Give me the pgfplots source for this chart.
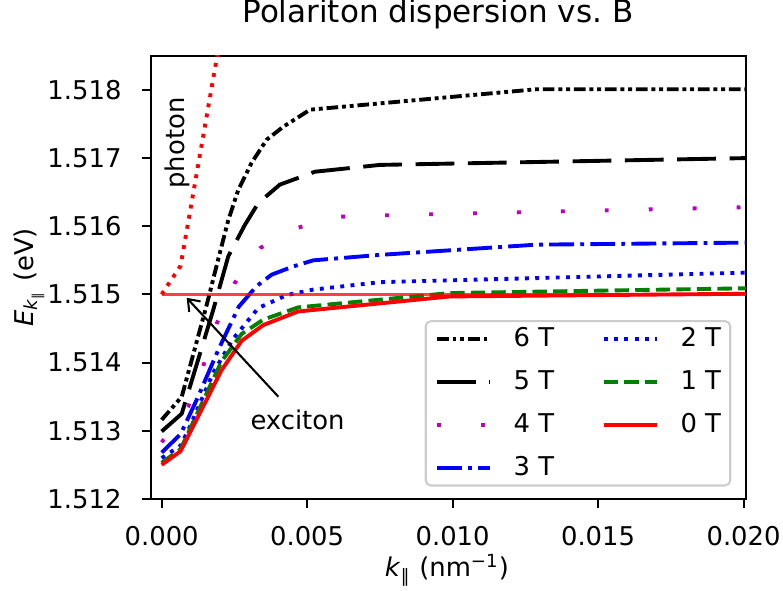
\documentclass[border=0pt]{standalone}
\usepackage{fontspec}
\setmainfont{DejaVu Sans}
\usepackage{pgfplots}
\pgfplotsset{compat=1.18}
\usetikzlibrary{arrows.meta}

\definecolor{mplgreen}{rgb}{0,0.5,0}
\definecolor{mplmag}{rgb}{0.75,0,0.75}

\tikzset{
  b6/.style={black, line width=1.5pt, dash pattern=on 4.5pt off 1.5pt on 1.5pt off 1.5pt on 1.5pt off 1.5pt},
  b5/.style={black, line width=1.5pt, dash pattern=on 15pt off 5.25pt},
  b4/.style={mplmag, line width=1.5pt, dash pattern=on 1.5pt off 15.5pt},
  b3/.style={blue, line width=1.5pt, dash pattern=on 9.6pt off 2.4pt on 1.5pt off 2.4pt},
  b2/.style={blue, line width=1.5pt, dash pattern=on 1.5pt off 2.475pt},
  b1/.style={mplgreen, line width=1.5pt, dash pattern=on 5.55pt off 2.4pt},
  b0/.style={red, line width=1.5pt},
}

\begin{document}
\begin{tikzpicture}
  \begin{axis}[
    width=230.1pt, height=171.4pt, scale only axis,
    xmin=-0.000368, xmax=0.020076,
    ymin=1.512, ymax=1.5185,
    xtick={0,0.005,0.01,0.015,0.02},
    ytick={1.512,1.513,1.514,1.515,1.516,1.517,1.518},
    scaled x ticks=false, scaled y ticks=false,
    /pgf/number format/fixed,
    /pgf/number format/fixed zerofill,
    /pgf/number format/precision=3,
    /pgf/number format/assume math mode=true,
    tick label style={font=\fontsize{10}{12}\selectfont, inner sep=0pt},
    xticklabel style={anchor=base, yshift=-14.6pt},
    yticklabel style={anchor=east, xshift=-7.7pt},
    xtick pos=bottom, ytick pos=left,
    tick align=outside, major tick length=3.5pt,
    every tick/.style={black, line width=0.8pt},
    axis line style={line width=0.8pt},
    legend columns=2,
    legend cell align=left,
    legend image code/.code={\draw[#1] (0pt,0pt) -- (20.5pt,0pt);},
    legend style={at={(rel axis cs:1,0)}, anchor=south east,
      xshift=-5.6pt, yshift=4.8pt,
      draw=black!20, line width=0.8pt, fill=white, fill opacity=0.8,
      draw opacity=1, text opacity=1, rounded corners=2pt,
      inner xsep=3.6pt, inner ysep=2.3pt,
      font=\fontsize{10}{12}\selectfont,
      nodes={inner sep=0pt},
      column sep=8.4pt, row sep=7.8pt,
      /tikz/every even column/.append style={column sep=18.5pt}},
  ]
    % polariton branches, 6 T down to 0 T
    \addplot[b6, forget plot] coordinates {
      (0,1.51316) (0.00069,1.51350) (0.00155,1.51485) (0.00194,1.51551)
      (0.00229,1.51609) (0.00263,1.51653) (0.00309,1.51693) (0.00361,1.51727)
      (0.00418,1.51746) (0.0051,1.51771) (0.01288,1.51801) (0.0201,1.51801)};
    \addplot[b5, forget plot] coordinates {
      (0,1.51299) (0.00069,1.51325) (0.00177,1.51477) (0.00229,1.51556)
      (0.00286,1.51602) (0.00332,1.51634) (0.00406,1.51661) (0.00527,1.51680)
      (0.0075,1.51690) (0.0201,1.51700)};
    \addplot[b4, forget plot] coordinates {
      (0,1.51283) (0.00091,1.51335) (0.00143,1.51395) (0.00189,1.51457)
      (0.0025,1.51516) (0.00338,1.51568) (0.00469,1.51598) (0.00613,1.51614)
      (0.0076,1.51616) (0.0201,1.51628)};
    \addplot[b3, forget plot] coordinates {
      (0,1.51268) (0.00065,1.51295) (0.0012,1.51345) (0.00195,1.51419)
      (0.00265,1.51482) (0.00326,1.51512) (0.00378,1.51529) (0.00452,1.51541)
      (0.00521,1.51550) (0.0075,1.51558) (0.01288,1.51573) (0.0201,1.51576)};
    \addplot[b2, forget plot] coordinates {
      (0,1.51260) (0.00065,1.51278) (0.00097,1.51306) (0.00177,1.51385)
      (0.00246,1.51435) (0.00332,1.51480) (0.0043,1.51499) (0.0052,1.51507)
      (0.0075,1.51518) (0.0201,1.51532)};
    \addplot[b1, forget plot] coordinates {
      (0,1.51253) (0.00065,1.51273) (0.00206,1.51402) (0.00275,1.51442)
      (0.00349,1.51463) (0.00469,1.51481) (0.0099,1.51502) (0.0201,1.51509)};
    \addplot[b0, forget plot] coordinates {
      (0,1.51250) (0.00065,1.51270) (0.00206,1.51389) (0.00275,1.51432)
      (0.00349,1.51455) (0.00469,1.51475) (0.0099,1.51497) (0.0201,1.51501)};

    % bare photon and exciton
    \addplot[red, line width=1.5pt, dash pattern=on 1.5pt off 2.475pt, forget plot]
      coordinates {(0,1.51500) (0.00065,1.51542) (0.0021,1.51897)};
    \addplot[red, line width=1pt, opacity=0.75, forget plot]
      coordinates {(0,1.515) (0.0201,1.515)};

    \node[rotate=90, anchor=base, font=\fontsize{10}{12}\selectfont]
      at (axis cs:0.000777,1.51722) {photon};
    \node[anchor=base, font=\fontsize{10}{12}\selectfont]
      at (axis cs:0.00467,1.51302) {exciton};
    \draw[line width=0.8pt, -{Straight Barb[length=4pt, width=6pt]}]
      (axis cs:0.00401,1.5135) -- (axis cs:0.00086,1.51495);

    \addlegendimage{b6}\addlegendentry{6 T}
    \addlegendimage{b2}\addlegendentry{2 T}
    \addlegendimage{b5}\addlegendentry{5 T}
    \addlegendimage{b1}\addlegendentry{1 T}
    \addlegendimage{b4}\addlegendentry{4 T}
    \addlegendimage{b0}\addlegendentry{0 T}
    \addlegendimage{b3}\addlegendentry{3 T}
  \end{axis}
  \node[anchor=base, font=\fontsize{12}{14}\selectfont] at (111.0pt,184.2pt)
    {Polariton dispersion vs.\ B};
  \node[anchor=base, font=\fontsize{10}{12}\selectfont] at (114.5pt,-30.2pt)
    {\textit{k}\textsubscript{∥} (nm\textsuperscript{−1})};
  \node[rotate=90, anchor=base, font=\fontsize{10}{12}\selectfont] at (-45.6pt,85.7pt)
    {\textit{E}\textsubscript{\textit{k}\textsubscript{∥}} (eV)};
  \pgfresetboundingbox
  \path[use as bounding box] (-58.4pt,-35.6pt) rectangle (244.5pt,193.0pt);
\end{tikzpicture}
\end{document}
